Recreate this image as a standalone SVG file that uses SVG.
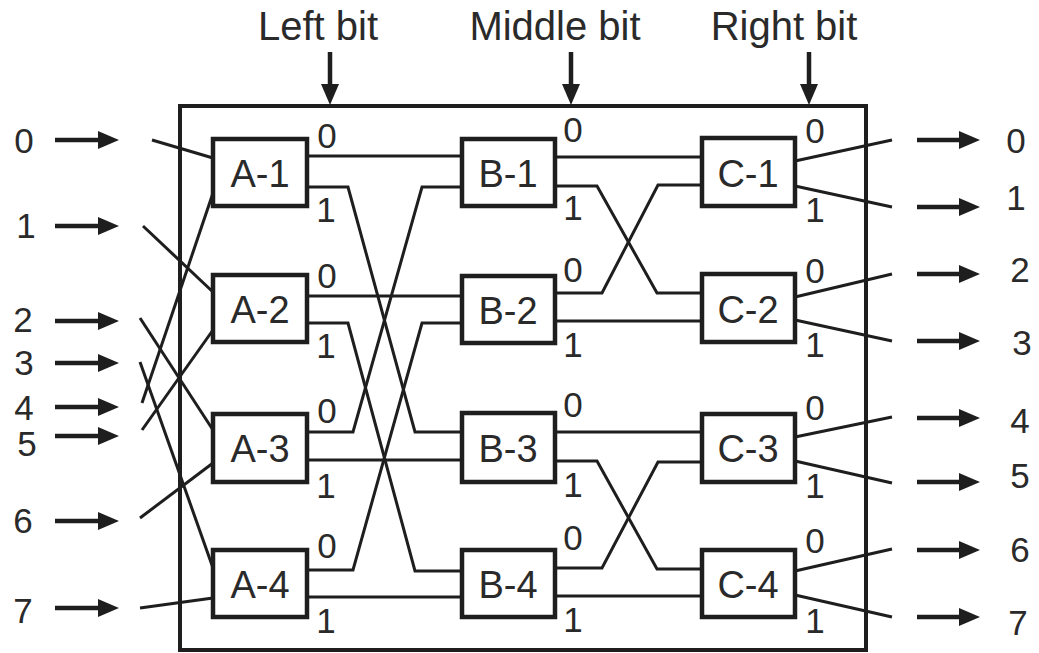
<svg xmlns="http://www.w3.org/2000/svg" width="1039" height="653" viewBox="0 0 1039 653">
<style>
.w{fill:none;stroke:#1e1e1e;stroke-width:3;stroke-linejoin:miter}
.ar{fill:none;stroke:#1e1e1e;stroke-width:4.5}
.box{fill:#fff;stroke:#1e1e1e;stroke-width:4.5}
.frame{fill:none;stroke:#1e1e1e;stroke-width:4}
.t{font-family:"Liberation Sans",Arial,sans-serif;fill:#2a2a2a;text-anchor:middle}
.bl{font-size:38px}
.pl{font-size:35px}
.io{font-size:35px}
.top{font-size:40px}
</style>
<defs>
<marker id="ah" markerUnits="userSpaceOnUse" markerWidth="22" markerHeight="20" refX="0" refY="9" orient="auto">
<path d="M0,0 L21,9 L0,18 Z" fill="#1e1e1e"/>
</marker>
</defs>
<rect width="1039" height="653" fill="#fff"/>
<rect id="frame" class="frame" x="180" y="106" width="686" height="544"/>
<g id="top-labels">
<text class="t top" x="318" y="40">Left bit</text>
<text class="t top" x="555" y="40">Middle bit</text>
<text class="t top" x="784" y="40">Right bit</text>
</g>
<g id="connectors">
<line class="ar" x1="330" y1="52" x2="330" y2="84" marker-end="url(#ah)"/>
<line class="ar" x1="571" y1="52" x2="571" y2="84" marker-end="url(#ah)"/>
<line class="ar" x1="809" y1="52" x2="809" y2="84" marker-end="url(#ah)"/>
<line class="ar" x1="55" y1="140" x2="98" y2="140" marker-end="url(#ah)"/>
<line class="ar" x1="55" y1="226" x2="98" y2="226" marker-end="url(#ah)"/>
<line class="ar" x1="55" y1="321" x2="98" y2="321" marker-end="url(#ah)"/>
<line class="ar" x1="55" y1="363" x2="98" y2="363" marker-end="url(#ah)"/>
<line class="ar" x1="55" y1="407" x2="98" y2="407" marker-end="url(#ah)"/>
<line class="ar" x1="55" y1="436" x2="98" y2="436" marker-end="url(#ah)"/>
<line class="ar" x1="55" y1="521" x2="98" y2="521" marker-end="url(#ah)"/>
<line class="ar" x1="55" y1="608" x2="98" y2="608" marker-end="url(#ah)"/>
<line class="ar" x1="917" y1="140" x2="959" y2="140" marker-end="url(#ah)"/>
<line class="ar" x1="917" y1="207" x2="959" y2="207" marker-end="url(#ah)"/>
<line class="ar" x1="917" y1="274" x2="959" y2="274" marker-end="url(#ah)"/>
<line class="ar" x1="917" y1="341" x2="959" y2="341" marker-end="url(#ah)"/>
<line class="ar" x1="917" y1="418" x2="959" y2="418" marker-end="url(#ah)"/>
<line class="ar" x1="917" y1="482" x2="959" y2="482" marker-end="url(#ah)"/>
<line class="ar" x1="917" y1="550" x2="959" y2="550" marker-end="url(#ah)"/>
<line class="ar" x1="917" y1="617" x2="959" y2="617" marker-end="url(#ah)"/>
<path class="w" d="M152,140 L213,158"/>
<path class="w" d="M143,226 L213,292"/>
<path class="w" d="M140,318 L213,430"/>
<path class="w" d="M140,362 L213,568"/>
<path class="w" d="M142,403 L213,193"/>
<path class="w" d="M142,430 L213,330"/>
<path class="w" d="M140,518 L213,463"/>
<path class="w" d="M140,608 L213,598"/>
<path class="w" d="M307,156 H462"/>
<path class="w" d="M307,187 H348 L415,432 H462"/>
<path class="w" d="M307,296 H462"/>
<path class="w" d="M307,323 H348 L415,571 H462"/>
<path class="w" d="M307,432 H353 L422,187 H462"/>
<path class="w" d="M307,460 H462"/>
<path class="w" d="M307,570 H353 L422,323 H462"/>
<path class="w" d="M307,597 H462"/>
<path class="w" d="M555,157 H702"/>
<path class="w" d="M555,186 H597 L657,293 H702"/>
<path class="w" d="M555,293 H602 L658,185 H702"/>
<path class="w" d="M555,321 H702"/>
<path class="w" d="M555,432 H702"/>
<path class="w" d="M555,461 H597 L657,569 H702"/>
<path class="w" d="M555,568 H602 L658,462 H702"/>
<path class="w" d="M555,596 H702"/>
<path class="w" d="M795,161 L892,140"/>
<path class="w" d="M795,186 L892,207"/>
<path class="w" d="M795,297 L892,274"/>
<path class="w" d="M795,320 L892,341"/>
<path class="w" d="M795,437 L892,417"/>
<path class="w" d="M795,461 L892,483"/>
<path class="w" d="M795,571 L892,549"/>
<path class="w" d="M795,595 L892,617"/>
</g>
<g id="inputs">
<text class="t io" x="24" y="153">0</text>
<text class="t io" x="26" y="238">1</text>
<text class="t io" x="23" y="332">2</text>
<text class="t io" x="24" y="375">3</text>
<text class="t io" x="24" y="420">4</text>
<text class="t io" x="27" y="456">5</text>
<text class="t io" x="23" y="533">6</text>
<text class="t io" x="23" y="623">7</text>
</g>
<g id="outputs">
<text class="t io" x="1016" y="153">0</text>
<text class="t io" x="1016" y="210">1</text>
<text class="t io" x="1020" y="282">2</text>
<text class="t io" x="1022" y="355">3</text>
<text class="t io" x="1020" y="433">4</text>
<text class="t io" x="1020" y="488">5</text>
<text class="t io" x="1020" y="562">6</text>
<text class="t io" x="1018" y="635">7</text>
</g>
<g id="A-1"><rect class="box" x="213" y="139" width="94" height="67"/><text class="t bl" x="260" y="187">A-1</text><text class="t pl" x="327" y="148">0</text><text class="t pl" x="326" y="222">1</text></g>
<g id="A-2"><rect class="box" x="213" y="275" width="94" height="67"/><text class="t bl" x="260" y="323">A-2</text><text class="t pl" x="327" y="288">0</text><text class="t pl" x="326" y="358">1</text></g>
<g id="A-3"><rect class="box" x="213" y="414" width="94" height="68"/><text class="t bl" x="260" y="462">A-3</text><text class="t pl" x="327" y="423">0</text><text class="t pl" x="326" y="498">1</text></g>
<g id="A-4"><rect class="box" x="213" y="550" width="94" height="67"/><text class="t bl" x="260" y="598">A-4</text><text class="t pl" x="327" y="558">0</text><text class="t pl" x="326" y="633">1</text></g>
<g id="B-1"><rect class="box" x="462" y="139" width="93" height="67"/><text class="t bl" x="508" y="187">B-1</text><text class="t pl" x="573" y="142">0</text><text class="t pl" x="573" y="220">1</text></g>
<g id="B-2"><rect class="box" x="462" y="276" width="93" height="67"/><text class="t bl" x="508" y="324">B-2</text><text class="t pl" x="573" y="282">0</text><text class="t pl" x="573" y="357">1</text></g>
<g id="B-3"><rect class="box" x="462" y="413" width="93" height="69"/><text class="t bl" x="508" y="462">B-3</text><text class="t pl" x="573" y="417">0</text><text class="t pl" x="573" y="497">1</text></g>
<g id="B-4"><rect class="box" x="462" y="550" width="93" height="67"/><text class="t bl" x="508" y="598">B-4</text><text class="t pl" x="573" y="550">0</text><text class="t pl" x="573" y="632">1</text></g>
<g id="C-1"><rect class="box" x="702" y="138" width="93" height="68"/><text class="t bl" x="748" y="187">C-1</text><text class="t pl" x="815" y="143">0</text><text class="t pl" x="815" y="222">1</text></g>
<g id="C-2"><rect class="box" x="702" y="274" width="93" height="68"/><text class="t bl" x="748" y="323">C-2</text><text class="t pl" x="815" y="283">0</text><text class="t pl" x="815" y="357">1</text></g>
<g id="C-3"><rect class="box" x="702" y="414" width="93" height="68"/><text class="t bl" x="748" y="462">C-3</text><text class="t pl" x="815" y="420">0</text><text class="t pl" x="815" y="498">1</text></g>
<g id="C-4"><rect class="box" x="702" y="550" width="93" height="67"/><text class="t bl" x="748" y="598">C-4</text><text class="t pl" x="815" y="553">0</text><text class="t pl" x="815" y="633">1</text></g>
</svg>
